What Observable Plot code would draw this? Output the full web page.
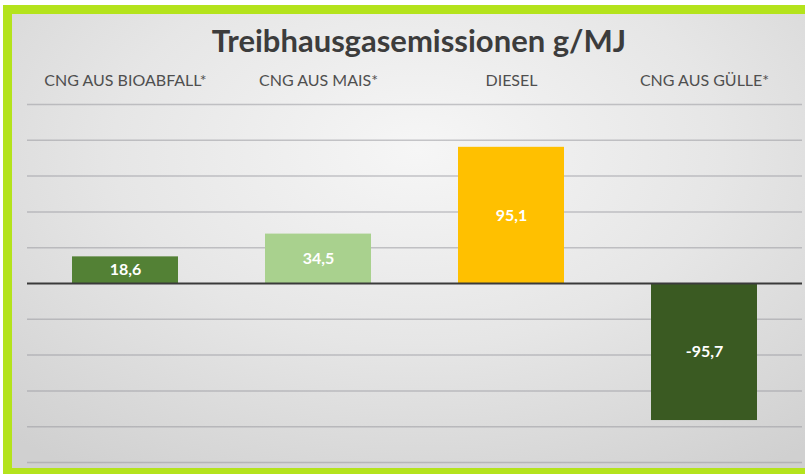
<!DOCTYPE html>
<html>
<head>
<meta charset="utf-8">
<script src="https://cdn.jsdelivr.net/npm/d3@7"></script>
<script src="https://cdn.jsdelivr.net/npm/@observablehq/plot@0.6"></script>
<style>
  html, body { margin: 0; padding: 0; background: #ffffff; }
  #wrap { position: relative; width: 805px; height: 474px; overflow: hidden; }
  #frame {
    position: absolute; left: 3px; top: 5px; width: 830px; height: 472px;
    box-sizing: border-box; border: 9px solid #b4e31c;
    background: radial-gradient(ellipse 75% 85% at 50% 30%, #f6f6f6 0%, #e6e6e6 50%, #d0d0d0 100%);
  }
  #title {
    position: absolute; left: 0; width: 838px; top: 21px; text-align: center;
    font-family: Lato, sans-serif; font-weight: 700; font-size: 31px; color: #3c3c3c;
  }
  #chart { position: absolute; left: 0; top: 0; }
</style>
</head>
<body>
<div id="wrap">
  <div id="frame"></div>
  <div id="title">Treibhausgasemissionen g/MJ</div>
  <div id="chart"></div>
</div>
<script>
const categories = ["CNG AUS BIOABFALL*", "CNG AUS MAIS*", "DIESEL", "CNG AUS GÜLLE*"];
const values = [18.6, 34.5, 95.1, -95.7];
const colors = ["#538135", "#a9d18e", "#ffc000", "#3a5a22"];
const gridTicks = [-125, -100, -75, -50, -25, 25, 50, 75, 100, 125];

const data = categories.map((c, i) => ({cat: c, value: values[i], color: colors[i]}));

const chart = Plot.plot({
  width: 805,
  height: 474,
  marginTop: 104,
  marginBottom: 12,
  marginLeft: 27,
  marginRight: 3,
  style: {background: "transparent", fontFamily: "Lato, sans-serif"},
  x: {type: "band", domain: categories, paddingInner: 0.45, paddingOuter: 0.225, axis: null},
  y: {domain: [-125, 125], axis: null},
  marks: [
    Plot.gridY(gridTicks, {stroke: "#9a9aa0", strokeOpacity: 0.55, strokeWidth: 1.5}),
    Plot.barY(data, {x: "cat", y: "value", fill: "color"}),
    Plot.ruleY([0], {stroke: "#3a3a3a", strokeWidth: 2}),
    Plot.axisX({anchor: "top", tickSize: 0, tickPadding: 19, fontSize: 16, fill: "#4f4f4f", label: null}),
    Plot.text(data, {x: "cat", y: d => d.value / 2, text: d => String(d.value).replace(".", ","),
      fill: "white", fontWeight: "bold", fontSize: 16})
  ]
});
document.getElementById("chart").appendChild(chart);
</script>
</body>
</html>
